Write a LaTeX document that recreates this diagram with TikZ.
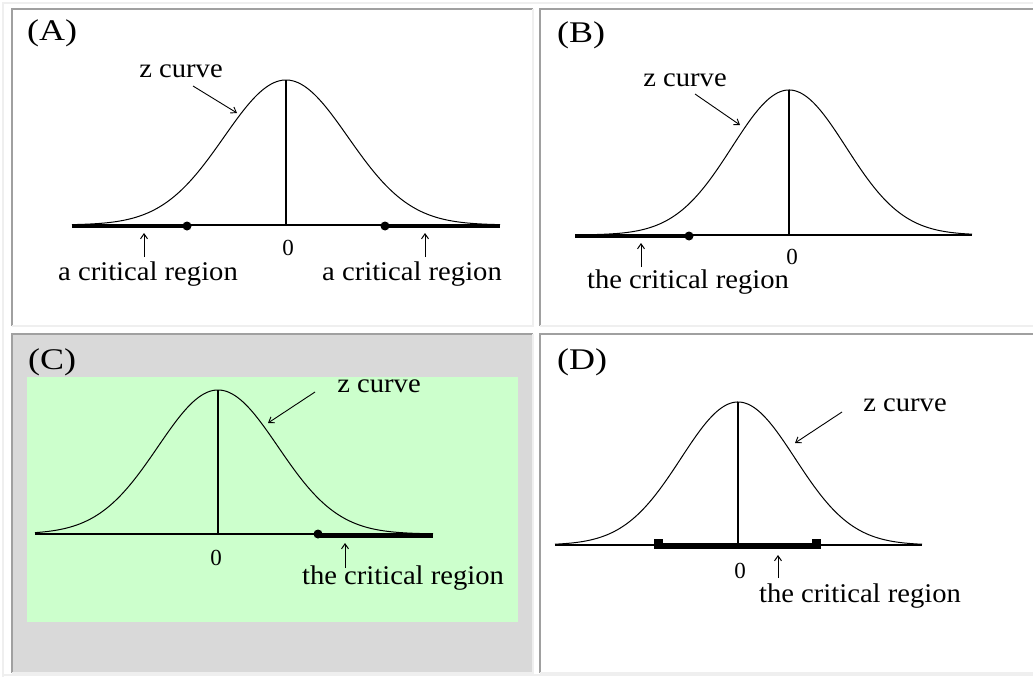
\documentclass[tikz,border=0pt]{standalone}
\usepackage{fontspec}
\setmainfont{Liberation Serif}
\newfontfamily\lblfont[FakeStretch=1.06]{Liberation Serif}
\newfontfamily\panfont[FakeStretch=1.2]{Liberation Serif}
\usetikzlibrary{arrows.meta}
\definecolor{bdark}{HTML}{A0A0A0}
\definecolor{blight}{HTML}{EFEFEF}
\definecolor{cgray}{HTML}{D9D9D9}
\definecolor{cgreen}{HTML}{CCFFCC}
\tikzset{
  lbl/.style={font=\lblfont\fontsize{27}{27}\selectfont, inner sep=0pt},
  zero/.style={font=\fontsize{23}{23}\selectfont, inner sep=0pt},
  pan/.style={font=\panfont\fontsize{30}{30}\selectfont, inner sep=0pt, anchor=west},
  axisline/.style={line width=1.3pt},
  vline/.style={line width=1.3pt},
  crit/.style={line width=4.5pt},
  tailbit/.style={line width=2.6pt},
  curve/.style={line width=1pt},
  zarrow/.style={line width=0.9pt, -{Straight Barb[length=5pt,width=7pt]}},
  uparrow/.style={line width=1pt, -{Straight Barb[length=5pt,width=7pt]}},
  dkb/.style={bdark, line width=2.5pt},
  ltb/.style={blight, line width=2.5pt},
}
\begin{document}
\begin{tikzpicture}[x=1pt,y=-1pt]
\useasboundingbox (0,0) rectangle (1033,677);
\fill[white] (0,0) rectangle (1033,677);
% outer table border
\draw[ltb] (3,677) -- (3,3) -- (1033,3);
\draw[ltb] (3,675) -- (1033,675);
% cell C background
\fill[cgray] (12,334) rectangle (533,673);
\fill[cgreen] (27,377) rectangle (518,622);
% cell borders
\draw[dkb] (12,326) -- (12,9) -- (533,9);
\draw[ltb] (533,9) -- (533,326) -- (12,326);
\draw[dkb] (540,326) -- (540,9) -- (1033,9);
\draw[ltb] (540,326) -- (1033,326);
\draw[dkb] (12,673) -- (12,334) -- (533,334);
\draw[ltb] (533,334) -- (533,673) -- (12,673);
\draw[dkb] (540,673) -- (540,334) -- (1033,334);
\draw[ltb] (540,673) -- (1033,673);

% ================= (A)
\node[pan] (Alab) at (27,33) {(A)};
\coordinate (AL) at (72,225);
\coordinate (AR) at (500,225);
\coordinate (Apk) at (286,80);
\coordinate (Abase) at (286,225);
\coordinate (AdL) at (187,226);
\coordinate (AdR) at (385,226);
\coordinate (AcL) at (72,226);
\coordinate (AcR) at (500,226);
\draw[axisline] (AL) -- (AR);
\draw[crit] (AcL) -- (AdL);
\draw[crit] (AdR) -- (AcR);
\fill (AdL) circle (4.5);
\fill (AdR) circle (4.5);
\draw[curve] plot[domain=72:500, samples=160, smooth] (\x, {225-145*exp(-0.5*((\x-286)/62)*((\x-286)/62))});
\draw[vline] (Apk) -- (Abase);
\node[lbl] (Az) at (181,71) {z curve};
\coordinate (Azs) at (193,86);
\coordinate (Azt) at (237,113);
\draw[zarrow] (Azs) -- (Azt);
\node[zero] (A0) at (288,248) {0};
\coordinate (AuL1) at (144,257);
\coordinate (AuL2) at (144,233);
\coordinate (AuR1) at (425,257);
\coordinate (AuR2) at (425,233);
\draw[uparrow] (AuL1) -- (AuL2);
\draw[uparrow] (AuR1) -- (AuR2);
\node[lbl] (AcrL) at (148,274) {a critical region};
\node[lbl] (AcrR) at (412,274) {a critical region};

% ================= (B)
\node[pan] (Blab) at (557,35) {(B)};
\coordinate (BL) at (575,235);
\coordinate (BR) at (972,235);
\coordinate (Bpk) at (789,90);
\coordinate (Bbase) at (789,235);
\coordinate (BcL) at (575,236);
\coordinate (Bd) at (689,236);
\coordinate (BtR1) at (958,235);
\draw[axisline] (BL) -- (BR);
\draw[crit] (BcL) -- (Bd);
\fill (Bd) circle (4.5);
\draw[tailbit] (BtR1) -- (BR);
\draw[curve] plot[domain=575:972, samples=160, smooth] (\x, {235-145*exp(-0.5*((\x-789)/57)*((\x-789)/57))});
\draw[vline] (Bpk) -- (Bbase);
\node[lbl] (Bz) at (685,80) {z curve};
\coordinate (Bzs) at (695,94);
\coordinate (Bzt) at (740,125);
\draw[zarrow] (Bzs) -- (Bzt);
\node[zero] (B0) at (792,257) {0};
\coordinate (Bu1) at (641,267);
\coordinate (Bu2) at (641,243);
\draw[uparrow] (Bu1) -- (Bu2);
\node[lbl] (Bcr) at (688,282) {the critical region};

% ================= (C)
\node[pan] (Clab) at (28,362) {(C)};
\coordinate (CL) at (35,534);
\coordinate (CR) at (433,534);
\coordinate (Cpk) at (218,390);
\coordinate (Cbase) at (218,534);
\coordinate (Cd) at (318,534);
\coordinate (CcR) at (433,536);
\coordinate (Ccs) at (318,536);
\coordinate (CtL) at (50,534);
\draw[axisline] (CL) -- (CR);
\draw[tailbit] (CL) -- (CtL);
\draw[crit] (Ccs) -- (CcR);
\fill (Cd) circle (4.5);
\draw[curve] plot[domain=35:433, samples=160, smooth] (\x, {534-144*exp(-0.5*((\x-218)/60)*((\x-218)/60))});
\draw[vline] (Cpk) -- (Cbase);
\node[lbl] (Cz) at (379,386) {z curve};
\coordinate (Czs) at (315,392);
\coordinate (Czt) at (268,423);
\draw[zarrow] (Czs) -- (Czt);
\node[zero] (C0) at (216,558) {0};
\coordinate (Cu1) at (345,568);
\coordinate (Cu2) at (345,543);
\draw[uparrow] (Cu1) -- (Cu2);
\node[lbl] (Ccr) at (403,578) {the critical region};

% ================= (D)
\node[pan] (Dlab) at (557,362) {(D)};
\coordinate (DL) at (555,545);
\coordinate (DR) at (922,545);
\coordinate (Dpk) at (738,402);
\coordinate (Dbase) at (738,545);
\coordinate (DcL) at (655,546);
\coordinate (DcR) at (820,546);
\coordinate (DtL) at (570,545);
\coordinate (DtR) at (907,545);
\draw[axisline] (DL) -- (DR);
\draw[tailbit] (DL) -- (DtL);
\draw[tailbit] (DtR) -- (DR);
\draw[line width=5.5pt] (DcL) -- (DcR);
\fill (654,539) rectangle (663,549);
\fill (812,539) rectangle (821,549);
\draw[curve] plot[domain=555:922, samples=160, smooth] (\x, {545-143*exp(-0.5*((\x-738)/57)*((\x-738)/57))});
\draw[vline] (Dpk) -- (Dbase);
\node[lbl] (Dz) at (905,405) {z curve};
\coordinate (Dzs) at (842,412);
\coordinate (Dzt) at (795,443);
\draw[zarrow] (Dzs) -- (Dzt);
\node[zero] (D0) at (740,571) {0};
\coordinate (Du1) at (778,578);
\coordinate (Du2) at (778,555);
\draw[uparrow] (Du1) -- (Du2);
\node[lbl] (Dcr) at (860,596) {the critical region};
\end{tikzpicture}
\end{document}
